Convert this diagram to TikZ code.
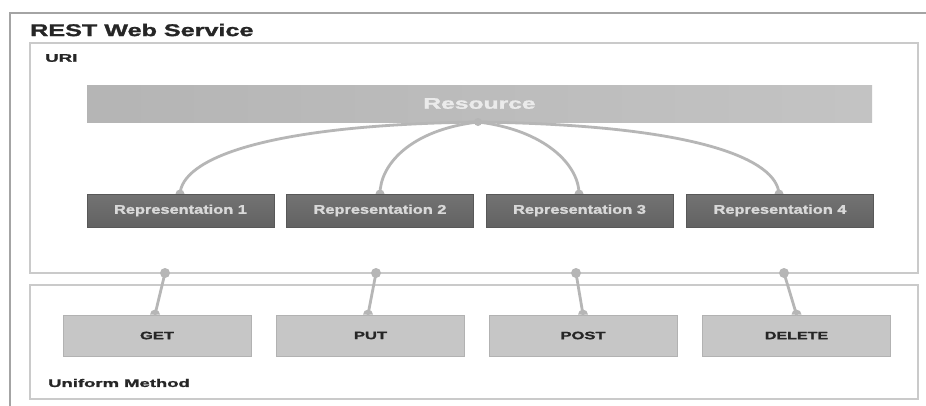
\documentclass[tikz,border=0pt]{standalone}
\usepackage{fontspec}
\setmainfont{Liberation Sans}
\newfontfamily\heavyfont{Liberation Sans}[BoldFeatures={FakeBold=1.3}]
\usepackage{graphicx}
\definecolor{outerline}{HTML}{A4A4A4}
\definecolor{boxline}{HTML}{CACACA}
\definecolor{linkgray}{HTML}{B6B6B6}
\definecolor{resfill}{HTML}{BEBEBE}
\definecolor{repdark}{HTML}{626262}
\definecolor{replight}{HTML}{737373}
\definecolor{methfill}{HTML}{C6C6C6}
\definecolor{methline}{HTML}{B2B2B2}
\definecolor{inktext}{HTML}{262626}
% bold, horizontally widened label text: {xscale}{size}{text}
\newcommand\widetext[3]{\scalebox{#1}[1]{\fontsize{#2}{#2}\heavyfont\bfseries #3}}
\begin{document}
\begin{tikzpicture}[x=1pt,y=-1pt,
  container/.style={draw=boxline, line width=1.4pt, fill=white, inner sep=0pt},
  resbar/.style={left color=resfill!95!black, right color=resfill!92!white, draw=none, inner sep=0pt,
    minimum width=785pt, minimum height=37pt, text=white!92!black},
  repbox/.style={top color=replight, bottom color=repdark, draw=repdark!90!black, line width=0.6pt,
    inner sep=0pt, minimum width=187pt, minimum height=33pt, text=white!85!black},
  methbox/.style={fill=methfill, draw=methline, line width=0.8pt, inner sep=0pt,
    minimum width=188pt, minimum height=41pt, text=inktext},
  caption/.style={anchor=west, inner sep=0pt, text=inktext},
  link/.style={draw=linkgray, line width=2.8pt, line cap=round},
  knob/.style={fill=linkgray, draw=none}
]
\useasboundingbox (0,0) rectangle (926,405);
\clip (0,0) rectangle (926,405);

% outer service frame (runs off the right and bottom edges)
\draw[outerline, line width=2pt] (10,410) -- (10,13) -- (935,13);
\node[caption] (title) at (30,30) {\widetext{1.48}{17pt}{REST Web Service}};

% URI container with the resource and its representations
\node[container, minimum width=888pt, minimum height=230pt] (uri) at (474,158) {};
\node[caption] (urilabel) at (45,58) {\widetext{1.7}{11pt}{URI}};

% Uniform method container
\node[container, minimum width=888pt, minimum height=114pt] (method) at (474,342) {};
\node[caption] (methlabel) at (48,383) {\widetext{1.68}{11pt}{Uniform Method}};

% the resource bar
\node[resbar] (res) at (479.5,103.5) {\widetext{1.6}{15.4pt}{Resource}};
\coordinate (hub) at (478,122);

% curved links from the resource to each representation
\coordinate (r1top) at (180,194);
\coordinate (r2top) at (380,194);
\coordinate (r3top) at (579,194);
\coordinate (r4top) at (779,194);
\draw[link] (hub) .. controls (260,125) and (182,160) .. (r1top);
\draw[link] (hub) .. controls (410,130) and (380,165) .. (r2top);
\draw[link] (hub) .. controls (545,130) and (579,165) .. (r3top);
\draw[link] (hub) .. controls (700,125) and (777,160) .. (r4top);
\fill[knob] (hub) circle (4pt);
\foreach \p in {r1top,r2top,r3top,r4top} \fill[knob] (\p) circle (4.5pt);

% representations
\node[repbox] (rep1) at (180.5,210.5) {\widetext{1.3}{12.6pt}{Representation 1}};
\node[repbox] (rep2) at (380,210.5) {\widetext{1.3}{12.6pt}{Representation 2}};
\node[repbox] (rep3) at (579.5,210.5) {\widetext{1.3}{12.6pt}{Representation 3}};
\node[repbox] (rep4) at (780,210.5) {\widetext{1.3}{12.6pt}{Representation 4}};

% methods, each linked up to the URI container
\node[methbox] (get) at (157,335.5) {\widetext{1.55}{10.7pt}{GET}};
\node[methbox] (put) at (370.5,335.5) {\widetext{1.55}{10.7pt}{PUT}};
\node[methbox] (post) at (583,335.5) {\widetext{1.55}{10.7pt}{POST}};
\node[methbox] (delete) at (796.5,335.5) {\widetext{1.5}{10.7pt}{DELETE}};

\coordinate (u1) at (165,273);
\coordinate (u2) at (376,273);
\coordinate (u3) at (576,273);
\coordinate (u4) at (784,273);
\draw[link] (u1) -- ([xshift=-2pt]get.north);
\draw[link] (u2) -- ([xshift=-2.5pt]put.north);
\draw[link] (u3) -- (post.north);
\draw[link] (u4) -- (delete.north);
\foreach \p in {u1,u2,u3,u4} \fill[knob] (\p) circle (5pt);
\fill[knob] ([xshift=-2pt]get.north) ++(-5pt,0) arc[start angle=180, end angle=0, radius=5pt] -- cycle;
\fill[knob] ([xshift=-2.5pt]put.north) ++(-5pt,0) arc[start angle=180, end angle=0, radius=5pt] -- cycle;
\fill[knob] (post.north) ++(-5pt,0) arc[start angle=180, end angle=0, radius=5pt] -- cycle;
\fill[knob] (delete.north) ++(-5pt,0) arc[start angle=180, end angle=0, radius=5pt] -- cycle;
\end{tikzpicture}
\end{document}
